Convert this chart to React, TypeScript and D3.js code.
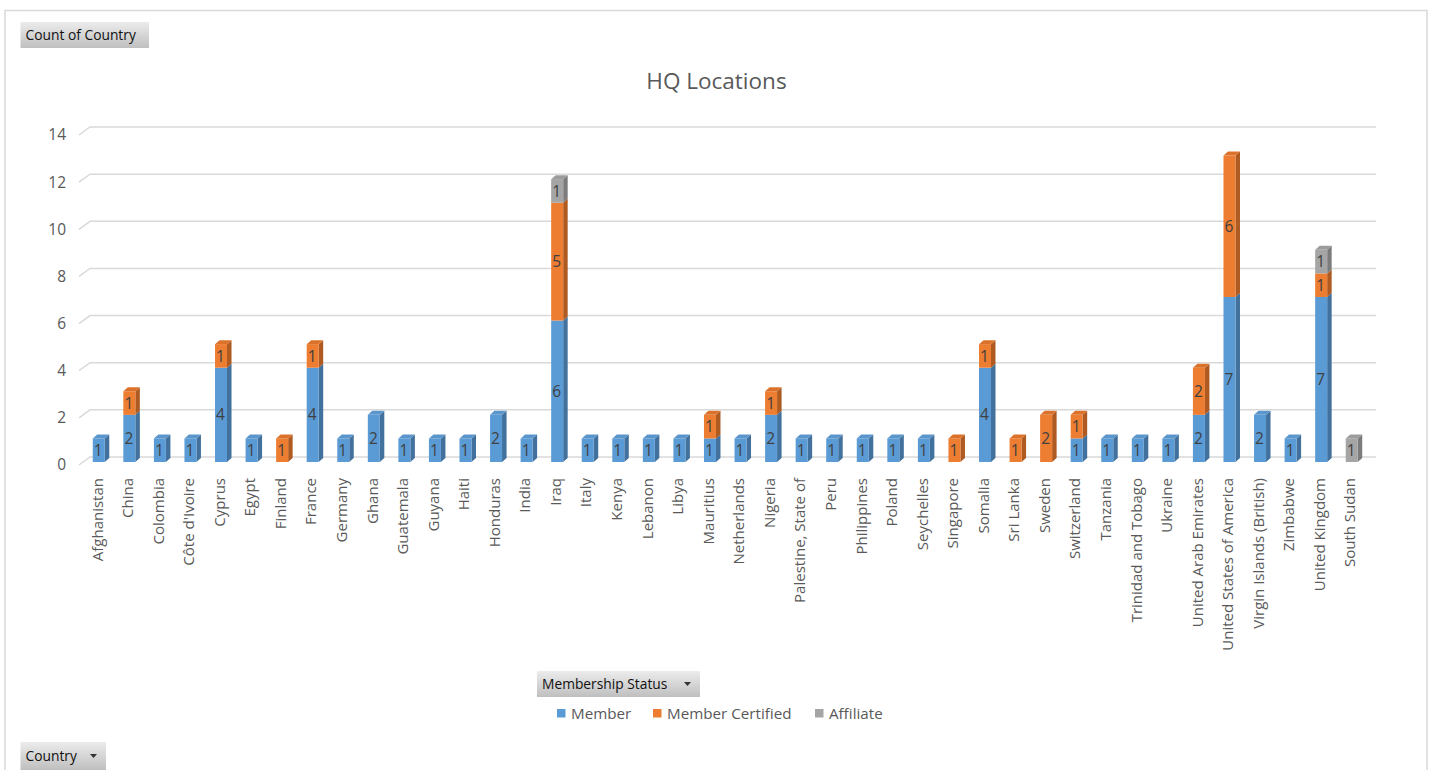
import React from "react";
import * as d3 from "d3";

const countries = [
  "Afghanistan", "China", "Colombia", "Côte d'Ivoire", "Cyprus", "Egypt", "Finland", "France",
  "Germany", "Ghana", "Guatemala", "Guyana", "Haiti", "Honduras", "India", "Iraq", "Italy",
  "Kenya", "Lebanon", "Libya", "Mauritius", "Netherlands", "Nigeria", "Palestine, State of",
  "Peru", "Philippines", "Poland", "Seychelles", "Singapore", "Somalia", "Sri Lanka", "Sweden",
  "Switzerland", "Tanzania", "Trinidad and Tobago", "Ukraine", "United Arab Emirates",
  "United States of America", "Virgin Islands (British)", "Zimbabwe", "United Kingdom", "South Sudan",
];
const member = [1, 2, 1, 1, 4, 1, 0, 4, 1, 2, 1, 1, 1, 2, 1, 6, 1, 1, 1, 1, 1, 1, 2, 1, 1, 1, 1, 1, 0, 4, 0, 0, 1, 1, 1, 1, 2, 7, 2, 1, 7, 0];
const memberCertified = [0, 1, 0, 0, 1, 0, 1, 1, 0, 0, 0, 0, 0, 0, 0, 5, 0, 0, 0, 0, 1, 0, 1, 0, 0, 0, 0, 0, 1, 1, 1, 2, 1, 0, 0, 0, 2, 6, 0, 0, 1, 0];
const affiliate = [0, 0, 0, 0, 0, 0, 0, 0, 0, 0, 0, 0, 0, 0, 0, 1, 0, 0, 0, 0, 0, 0, 0, 0, 0, 0, 0, 0, 0, 0, 0, 0, 0, 0, 0, 0, 0, 0, 0, 0, 1, 1];
const seriesNames = ["Member", "Member Certified", "Affiliate"];
const yTicks = [0, 2, 4, 6, 8, 10, 12, 14];

const FRONT = ["#5B9BD5", "#ED7D31", "#A5A5A5"];
const SIDE = ["#41719C", "#AE5A21", "#7C7C7C"];
const TOP = ["#5A95CC", "#DC7229", "#9C9C9C"];

const FONT = "'Open Sans', sans-serif";

const W = 1430;
const H = 770;
const BAR_W = 12;
const DX = 4.5;
const DY = -4;

function Button({ x, y, w, h, label, arrow, id }: { x: number; y: number; w: number; h: number; label: string; arrow?: boolean; id: string }) {
  return (
    <g>
      <defs>
        <linearGradient id={id} x1="0" y1="0" x2="0" y2="1">
          <stop offset="0" stopColor="#ececec" />
          <stop offset="1" stopColor="#bfbfbf" />
        </linearGradient>
      </defs>
      <rect x={x} y={y} width={w} height={h} fill={`url(#${id})`} />
      <text x={x + 5} y={y + h / 2} dy="0.35em" fontFamily={FONT} fontSize={13.8} fill="#111">
        {label}
      </text>
      {arrow && (
        <path d={`M${x + w - 16},${y + h / 2 - 2} l7,0 l-3.5,4 z`} fill="#333" />
      )}
    </g>
  );
}

export default function App() {
  const x = d3.scaleBand<string>().domain(countries).range([83.5, 1367]);
  const yF = d3.scaleLinear().domain([0, 14]).range([462, 132]);
  const yB = (v: number) => yF(v) - 5;

  const data = countries.map((c, i) => ({ c, vals: [member[i], memberCertified[i], affiliate[i]] }));
  const stack = d3.stack<any>().keys(["0", "1", "2"]).value((d: any, k: string) => d.vals[+k])(data as any);

  const bars: React.ReactNode[] = [];
  const labels: React.ReactNode[] = [];
  data.forEach((d, i) => {
    const cx = (x(d.c) as number) + x.bandwidth() / 2;
    const x0 = cx - BAR_W / 2;
    const x1 = cx + BAR_W / 2;
    let topIdx = -1;
    d.vals.forEach((v, s) => { if (v > 0) topIdx = s; });
    stack.forEach((layer, s) => {
      const [lo, hi] = layer[i];
      if (hi - lo <= 0) return;
      const yt = yF(hi);
      const yb = yF(lo);
      bars.push(
        <g key={`${i}-${s}`}>
          <polygon
            points={`${x1},${yt} ${x1 + DX},${yt + DY} ${x1 + DX},${yb + DY} ${x1},${yb}`}
            fill={SIDE[s]}
          />
          <rect x={x0} y={yt} width={BAR_W} height={yb - yt} fill={FRONT[s]} />
          {s === topIdx && (
            <polygon
              points={`${x0},${yt} ${x0 + DX},${yt + DY} ${x1 + DX},${yt + DY} ${x1},${yt}`}
              fill={TOP[s]}
            />
          )}
        </g>
      );
      labels.push(
        <text key={`l${i}-${s}`} x={cx - 0.5} y={(yt + yb) / 2} dy="0.36em" textAnchor="middle"
          fontFamily={FONT} fontSize={15.5} fill="#404040">
          {hi - lo}
        </text>
      );
    });
  });

  return (
    <svg width={W} height={H} style={{ position: "absolute", left: 0, top: 0, display: "block", background: "#fff" }}>
      <rect x={5} y={10.5} width={1422} height={800} fill="#fff" stroke="#d9d9d9" strokeWidth={1.5} />
      <Button x={20.5} y={22} w={128.5} h={26} label="Count of Country" id="g1" />
      <text x={716.5} y={81} dy="0.35em" textAnchor="middle" fontFamily={FONT} fontSize={22.5} fill="#595959">
        HQ Locations
      </text>
      {yTicks.map((t) => (
        <g key={t}>
          <path d={`M79,${yB(t) + 8} L90,${yB(t)} L1376,${yB(t)}`} fill="none" stroke="#d9d9d9" strokeWidth={1.5} />
          <text x={66} y={yB(t) + 8} dy="0.35em" textAnchor="end" fontFamily={FONT} fontSize={15.5} fill="#595959">
            {t}
          </text>
        </g>
      ))}
      {bars}
      {labels}
      {countries.map((c) => (
        <text key={c} transform={`translate(${(x(c) as number) + x.bandwidth() / 2 - 1.5},478) rotate(-90)`}
          dy="0.35em" textAnchor="end" fontFamily={FONT} fontSize={15} fill="#595959">
          {c}
        </text>
      ))}
      <Button x={537} y={671} w={163} h={26} label="Membership Status" arrow id="g2" />
      {seriesNames.map((n, i) => {
        const lx = [557, 653, 815][i];
        return (
          <g key={n}>
            <rect x={lx} y={709} width={8.5} height={8.5} fill={FRONT[i]} />
            <text x={lx + 14} y={713.5} dy="0.35em" fontFamily={FONT} fontSize={15.2} fill="#595959">
              {n}
            </text>
          </g>
        );
      })}
      <Button x={20.5} y={742} w={85.5} h={28} label="Country" arrow id="g3" />
    </svg>
  );
}
